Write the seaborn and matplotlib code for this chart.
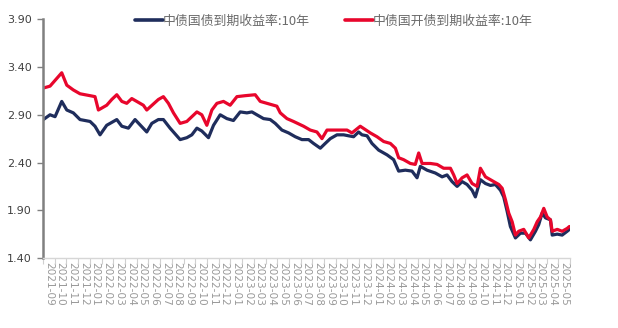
import matplotlib
matplotlib.use("Agg")
import matplotlib.pyplot as plt
import seaborn as sns
import pandas as pd
import numpy as np

# Months elapsed since 2021-09-01 and 10Y yields (%)
cgb_t = [0.03, 0.60, 1.03, 1.60, 2.03, 2.59, 3.16, 4.02, 4.44, 4.87, 5.44, 6.30, 6.73, 7.29,
         7.86, 8.86, 9.29, 9.85, 10.28, 10.85, 11.71, 12.28, 12.71, 13.14, 13.56, 14.13,
         14.56, 15.13, 15.70, 16.26, 16.84, 17.41, 17.84, 18.26, 18.83, 19.40, 19.83, 20.40,
         20.97, 21.54, 22.11, 22.68, 23.10, 23.68, 24.10, 24.53, 25.10, 25.67, 26.09, 26.52,
         26.95, 27.24, 27.67, 28.09, 28.66, 29.38, 29.94, 30.37, 30.94, 31.51, 31.94, 32.22,
         32.79, 33.50, 34.08, 34.50, 34.93, 35.36, 35.79, 36.21, 36.64, 36.92, 37.35, 37.78,
         38.21, 38.63, 39.06, 39.34, 39.63, 39.91, 40.34, 40.77, 41.20, 41.62, 42.05, 42.33,
         42.62, 42.91, 43.33, 43.48, 43.91, 44.33, 44.76, 44.95]
cgb_10y = [2.85, 2.90, 2.88, 3.04, 2.95, 2.92, 2.85, 2.83, 2.78, 2.69, 2.79, 2.85, 2.78, 2.76,
           2.85, 2.72, 2.81, 2.85, 2.85, 2.76, 2.64, 2.66, 2.69, 2.76, 2.73, 2.66,
           2.79, 2.90, 2.86, 2.84, 2.93, 2.92, 2.93, 2.90, 2.86, 2.85, 2.81, 2.74,
           2.71, 2.67, 2.64, 2.64, 2.60, 2.55, 2.60, 2.65, 2.69, 2.69, 2.68, 2.67,
           2.72, 2.69, 2.68, 2.60, 2.53, 2.48, 2.43, 2.31, 2.32, 2.31, 2.24, 2.36,
           2.32, 2.29, 2.25, 2.27, 2.20, 2.15, 2.20, 2.17, 2.11, 2.04, 2.22, 2.18,
           2.16, 2.17, 2.11, 2.04, 1.89, 1.73, 1.61, 1.66, 1.66, 1.59, 1.68, 1.75,
           1.87, 1.82, 1.80, 1.64, 1.65, 1.64, 1.68, 1.70]

cdb_t = [0.03, 0.60, 1.60, 2.03, 2.59, 3.16, 4.02, 4.44, 4.73, 5.44, 5.87, 6.30, 6.73, 7.15,
         7.58, 8.57, 8.86, 9.85, 10.28, 10.71, 11.14, 11.71, 12.28, 13.14, 13.56, 13.99,
         14.42, 14.85, 15.41, 15.98, 16.56, 17.26, 18.12, 18.55, 19.12, 19.97, 20.26, 20.83,
         21.39, 22.25, 22.82, 23.39, 23.82, 24.25, 25.10, 25.96, 26.38, 27.09, 27.95, 28.52,
         29.09, 29.66, 30.09, 30.37, 30.79, 31.37, 31.79, 32.08, 32.37, 33.08, 33.65, 34.21,
         34.79, 35.07, 35.36, 35.79, 36.21, 36.64, 37.07, 37.35, 37.78, 38.49, 38.92, 39.21,
         39.49, 39.77, 40.06, 40.34, 40.62, 41.05, 41.48, 41.91, 42.20, 42.48, 42.76, 43.05,
         43.33, 43.48, 43.91, 44.33, 44.76, 44.95]
cdb_10y = [3.18, 3.20, 3.34, 3.21, 3.16, 3.12, 3.10, 3.09, 2.95, 3.00, 3.06, 3.11, 3.04, 3.02,
           3.07, 3.00, 2.95, 3.06, 3.09, 3.02, 2.92, 2.81, 2.83, 2.93, 2.90, 2.79,
           2.95, 3.02, 3.04, 3.00, 3.09, 3.10, 3.11, 3.04, 3.02, 2.99, 2.92, 2.86,
           2.83, 2.78, 2.74, 2.72, 2.65, 2.74, 2.74, 2.74, 2.71, 2.78, 2.71, 2.67,
           2.62, 2.60, 2.55, 2.45, 2.43, 2.39, 2.38, 2.50, 2.39, 2.39, 2.38, 2.34,
           2.34, 2.27, 2.18, 2.24, 2.27, 2.18, 2.15, 2.34, 2.25, 2.20, 2.17, 2.13,
           2.01, 1.87, 1.78, 1.64, 1.68, 1.70, 1.61, 1.70, 1.78, 1.83, 1.92, 1.83,
           1.80, 1.68, 1.70, 1.68, 1.71, 1.73]

month_labels = [f"{y}-{m:02d}" for y, m in
                [(2021, 9), (2021, 10), (2021, 11), (2021, 12)]
                + [(2022, m) for m in range(1, 13)]
                + [(2023, m) for m in range(1, 13)]
                + [(2024, m) for m in range(1, 13)]
                + [(2025, m) for m in range(1, 6)]]

y_ticks = [1.40, 1.90, 2.40, 2.90, 3.40, 3.90]

name_cgb = "中债国债到期收益率:10年"
name_cdb = "中债国开债到期收益率:10年"
navy = "#1f2d5c"
red = "#e8062c"

sns.set_theme(style="white")
plt.rcParams["font.family"] = ["Noto Sans CJK SC", "DejaVu Sans"]

fig = plt.figure(figsize=(6.18, 3.28), dpi=100)
ax = fig.add_axes([43 / 618, 1 - 258 / 328, 527 / 618, (258 - 19.3) / 328])

df_cgb = pd.DataFrame({"t": cgb_t, "y": cgb_10y})
df_cdb = pd.DataFrame({"t": cdb_t, "y": cdb_10y})
sns.lineplot(data=df_cgb, x="t", y="y", ax=ax, color=navy, linewidth=2.3, label=name_cgb)
sns.lineplot(data=df_cdb, x="t", y="y", ax=ax, color=red, linewidth=2.3, label=name_cdb)

ax.set_xlim(0, len(month_labels))
ax.set_ylim(1.40, 3.90)
ax.set_xlabel("")
ax.set_ylabel("")

ax.set_yticks(y_ticks)
ax.set_yticklabels([f"{v:.2f}" for v in y_ticks], fontsize=8, color="#404040",
                   family=["DejaVu Sans"])
ax.tick_params(axis="y", which="major", direction="out", length=4, width=1,
               color="#808080", left=True, pad=4)

ax.set_xticks(np.arange(len(month_labels)) + 0.5)
ax.set_xticklabels(month_labels, rotation=-90, fontsize=7.6, color="#9a9a9a",
                   family=["DejaVu Sans"])
ax.set_xticks(np.arange(len(month_labels) + 1), minor=True)
ax.tick_params(axis="x", which="major", length=0, pad=3)
ax.tick_params(axis="x", which="minor", direction="out", length=4, width=0.8,
               color="#d0d0d0", bottom=True)

for side in ("top", "right"):
    ax.spines[side].set_visible(False)
ax.spines["left"].set_color("#808080")
ax.spines["left"].set_linewidth(1.8)
ax.spines["bottom"].set_color("#d6d6d6")
ax.spines["bottom"].set_linewidth(1.0)

ax.get_legend().remove()
handles, labels = ax.get_legend_handles_labels()
leg = fig.legend(handles, labels, loc="center", bbox_to_anchor=(334 / 618, 1 - 21 / 328),
                 ncol=2, frameon=False, prop={"size": 9.3, "weight": "light"},
                 handlelength=2.15, handletextpad=0.0, columnspacing=2.75, borderaxespad=0)
for txt in leg.get_texts():
    txt.set_color("#6a6a6a")
for line in leg.get_lines():
    line.set_linewidth(2.6)

fig.savefig("out.png", dpi=100)
